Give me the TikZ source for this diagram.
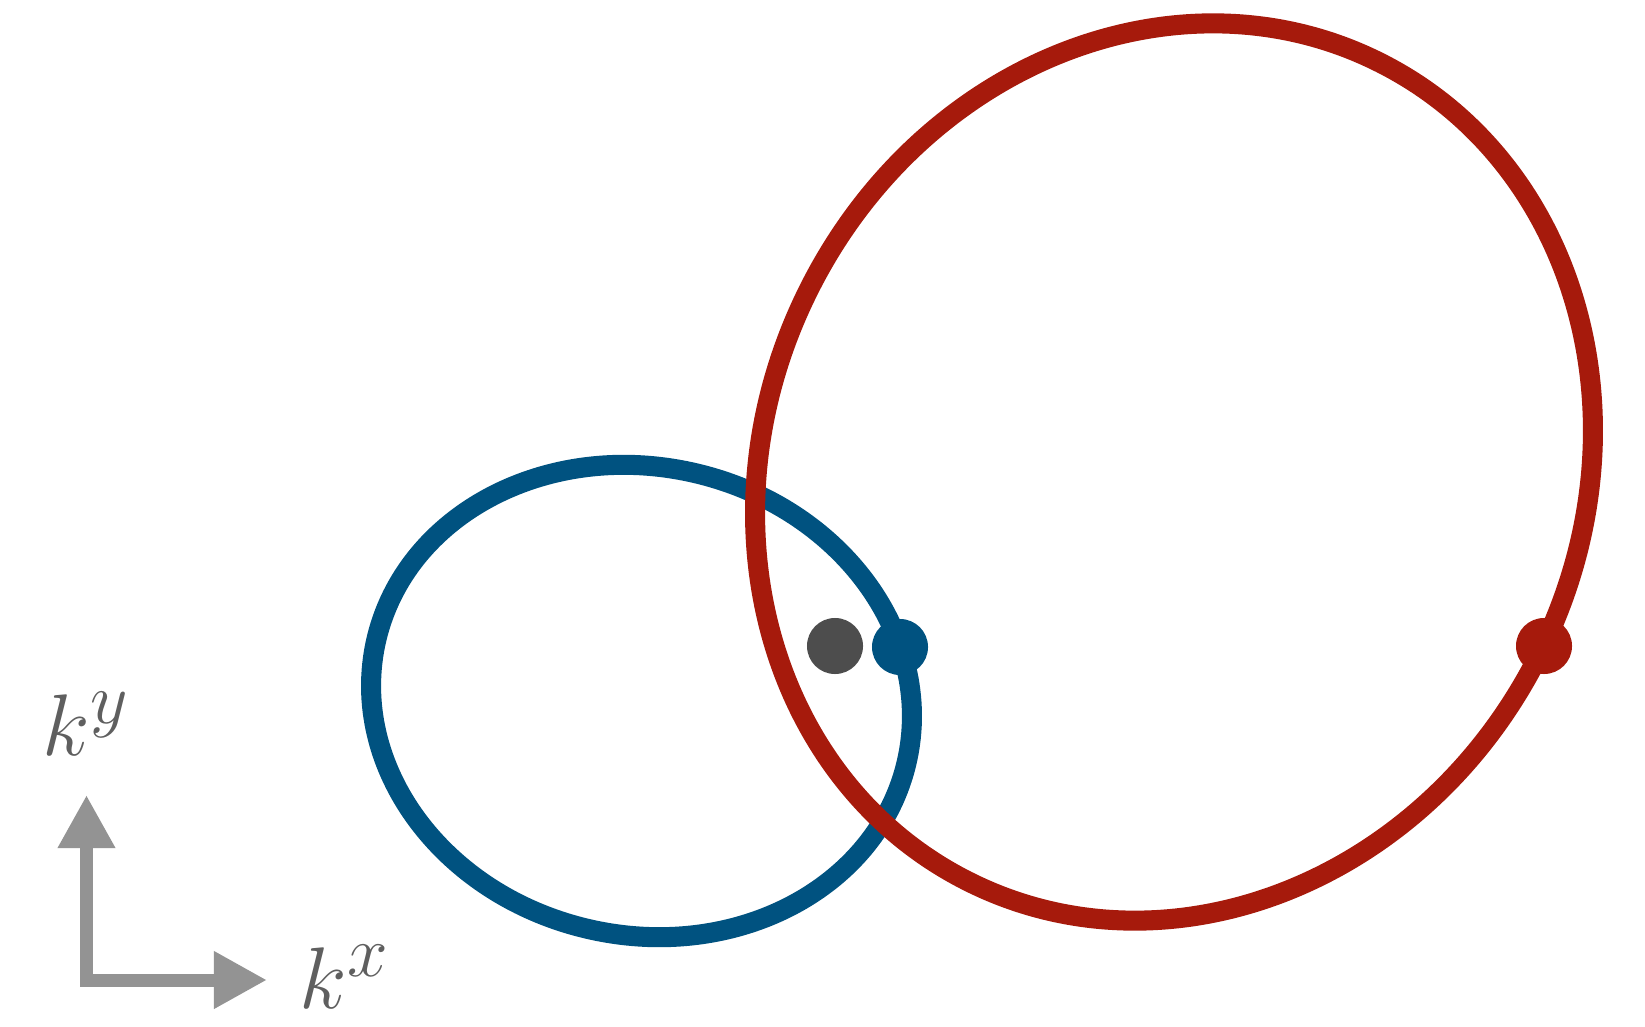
\documentclass[tikz,border=0pt]{standalone}
\usetikzlibrary{arrows.meta}
\definecolor{kblue}{RGB}{0,82,128}
\definecolor{kred}{RGB}{166,26,12}
\definecolor{axisgray}{RGB}{147,147,147}
\definecolor{labelgray}{RGB}{95,95,95}
\definecolor{dotgray}{RGB}{77,77,77}
\begin{document}
\begin{tikzpicture}[x=0.01cm, y=0.01cm, >={Triangle[width=0.54cm, length=0.53cm]},
    ring/.style={line width=5.7pt},
    dot/.style={circle, fill=#1, inner sep=0pt, minimum size=0.56cm},
    klabel/.style={text=labelgray, inner sep=0pt, anchor=base west, font=\fontsize{32}{38}\selectfont}]
    \useasboundingbox (0,0) rectangle (1645,1026);

    % Axes
    \coordinate (O) at (86.5,46);
    \coordinate (Ky) at (86.5,231);
    \coordinate (Kx) at (267,46);
    \draw[<->, axisgray, line width=0.13cm] (Ky) -- (O) -- (Kx);
    \node[klabel] (ly) at (42,271) {$k^{y}$};
    \node[klabel] (lx) at (299,18) {$k^{x}$};

    % Fermi surfaces
    \coordinate (Cb) at (641.5,325);
    \coordinate (Cr) at (1174,554);
    \draw[ring, kblue] (Cb) ellipse [x radius=2.72cm, y radius=2.34cm, rotate=-12.8];
    \draw[ring, kred] (Cr) ellipse [x radius=4.58cm, y radius=4.08cm, rotate=63.2];

    % Points
    \node[dot=dotgray] (k0) at (835,380) {};
    \node[dot=kblue] (kb) at (900,379) {};
    \node[dot=kred] (kr) at (1544,380) {};
\end{tikzpicture}
\end{document}
